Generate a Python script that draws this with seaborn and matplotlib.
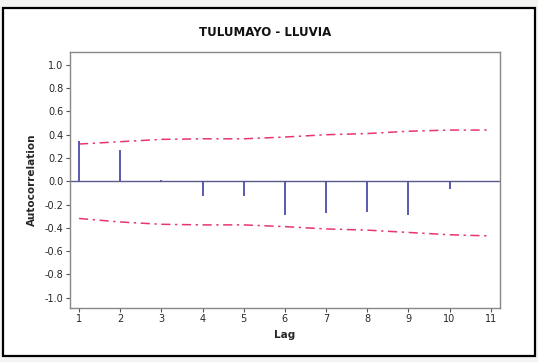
import numpy as np
import pandas as pd
import matplotlib
matplotlib.use("Agg")
import matplotlib.pyplot as plt
import seaborn as sns
from matplotlib.patches import Rectangle

# datos ACF
lags = [1, 2, 3, 4, 5, 6, 7, 8, 9, 10, 11]
acf = [0.35, 0.27, 0.01, -0.13, -0.13, -0.29, -0.27, -0.26, -0.29, -0.07, 0.0]
upper = [0.32, 0.34, 0.36, 0.365, 0.365, 0.38, 0.40, 0.41, 0.43, 0.44, 0.44]
lower = [-0.32, -0.35, -0.37, -0.375, -0.375, -0.39, -0.41, -0.42, -0.44, -0.46, -0.47]
yticks = [1.0, 0.8, 0.6, 0.4, 0.2, 0.0, -0.2, -0.4, -0.6, -0.8, -1.0]

df = pd.DataFrame({'Lag': lags, 'ACF': acf, 'Upper': upper, 'Lower': lower})

sns.set_style("white")
plt.rcParams['font.family'] = ['DejaVu Sans']

fig = plt.figure(figsize=(5.38, 3.62), dpi=100)
fig.patch.set_facecolor('#f4f4f2')
marco = Rectangle((0.006, 0.016), 0.988, 0.962, transform=fig.transFigure,
                  facecolor='white', edgecolor='black', linewidth=1.6, zorder=-10)
fig.add_artist(marco)
ax = fig.add_axes([0.130, 0.149, 0.799, 0.707])
ax.set_zorder(5)
ax.set_facecolor('white')

# limites de confianza
sns.lineplot(data=df, x='Lag', y='Upper', ax=ax, color='#e8356e', linewidth=1.1,
             linestyle=(0, (6, 3, 1.5, 3)))
sns.lineplot(data=df, x='Lag', y='Lower', ax=ax, color='#e8356e', linewidth=1.1,
             linestyle=(0, (6, 3, 1.5, 3)))

# linea cero y barras
ax.axhline(0, color='#5a5a8a', linewidth=1.0)
ax.vlines(df['Lag'], 0, df['ACF'], color='#4d4da8', linewidth=1.3)

ax.set_xlim(0.78, 11.22)
ax.set_ylim(-1.09, 1.11)
ax.set_xticks(lags)
ax.set_yticks(yticks)
ax.set_yticklabels([f'{v:.1f}' for v in yticks])
ax.tick_params(axis='both', direction='out', length=3, width=0.8, color='#555555',
               labelsize=7, pad=1.5, left=True, bottom=True)
for s in ax.spines.values():
    s.set_color('#888888')
    s.set_linewidth(1.0)

fig.text(0.492, 0.911, 'TULUMAYO - LLUVIA', ha='center', va='center', fontsize=8.5,
         fontweight='bold', color='#111111')
ax.set_xlabel('Lag', fontsize=7.5, fontweight='bold', labelpad=4)
ax.set_ylabel('Autocorrelation', fontsize=7.5, fontweight='bold', labelpad=6)

fig.savefig('out.png', dpi=100)
